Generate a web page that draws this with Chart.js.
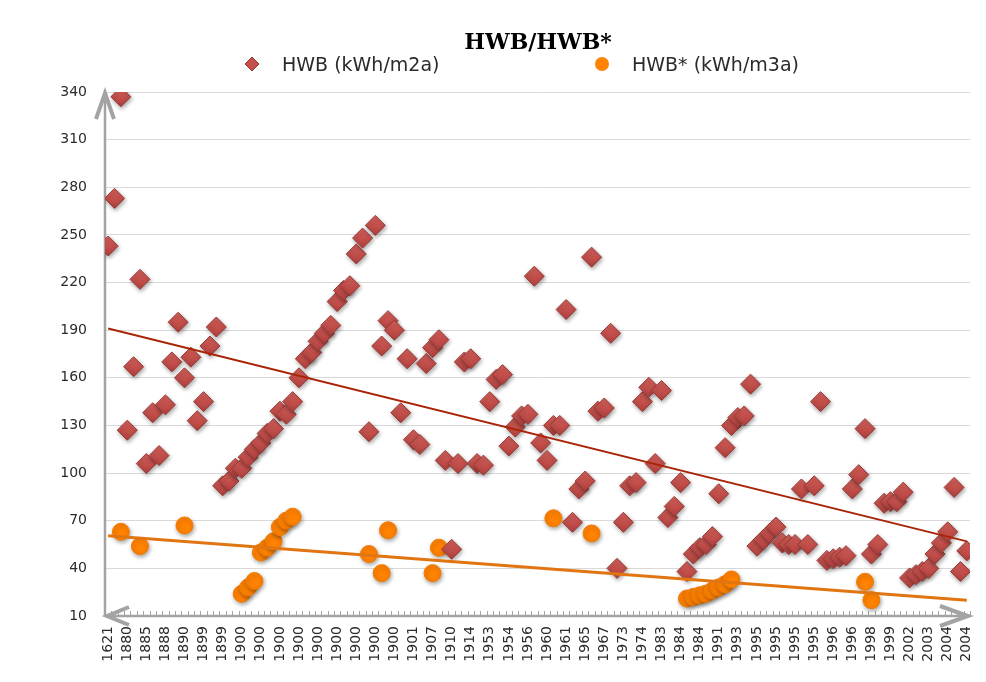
<!DOCTYPE html>
<html>
<head>
<meta charset="utf-8">
<title>HWB/HWB*</title>
<script src="https://cdn.jsdelivr.net/npm/chart.js@4.4.1/dist/chart.umd.min.js"></script>
<style>
  html, body { margin: 0; padding: 0; background: #fff; }
  #wrap { position: relative; width: 986px; height: 682px; }
</style>
</head>
<body>
<div id="wrap"><canvas id="chart" width="986" height="682"></canvas></div>
<script>
// ---------- DATA ----------
// labels shown under every third category (Excel skips the rest)
const tickLabels = [
  '1621', '1880', '1885', '1888', '1890', '1899', '1899', '1900', '1900', '1900',
  '1900', '1900', '1900', '1900', '1900', '1900', '1901', '1907', '1910', '1914',
  '1953', '1954', '1956', '1960', '1961', '1965', '1967', '1973', '1974', '1983',
  '1984', '1984', '1991', '1993', '1995', '1995', '1995', '1995', '1996', '1996',
  '1998', '1999', '2002', '2003', '2004', '2004'
];
const labelStep = 3;

// HWB (kWh/m2a), one value per building (category)
const hwb = [
  243, 273, 337, 127, 167, 222, 106, 138, 111, 143,
  170, 195, 160, 173, 133, 145, 180, 192,  92,  95,
  103, 103, 110, 115, 119, 125, 128, 139, 137, 145,
  160, 172, 176, 183, 188, 193, 208, 215, 218, 238,
  248, 126, 256, 180, 196, 190, 138, 172, 121, 118,
  169, 179, 184, 108,  52, 106, 170, 172, 106, 105,
  145, 159, 162, 117, 129, 136, 137, 224, 119, 108,
  130, 130, 203,  69,  90,  95, 236, 139, 141, 188,
   40,  69,  92,  94, 145, 154, 106, 152,  72,  79,
   94,  38,  49,  53,  55,  60,  87, 116, 130, 135,
  136, 156,  54,  58,  62,  66,  56,  55,  55,  90,
   55,  92, 145,  45,  46,  47,  48,  90,  99, 128,
   49,  55,  81,  82,  82,  88,  34,  36,  38,  40,
   49,  56,  63,  91,  38,  51
];

// HWB* (kWh/m3a), only known for some buildings
const hwbStar = [
  null, null,   63, null, null,   54, null, null, null, null,
  null, null,   67, null, null, null, null, null, null, null,
  null,   24,   28,   32,   50,   53,   57,   66,   70,   72.5,
  null, null, null, null, null, null, null, null, null, null,
  null,   49, null,   37,   64, null, null, null, null, null,
  null,   37,   53, null, null, null, null, null, null, null,
  null, null, null, null, null, null, null, null, null, null,
    71.5, null, null, null, null, null,   62, null, null, null,
  null, null, null, null, null, null, null, null, null, null,
  null,   21,   22,   23,   24,   26,   28,   30,   33, null,
  null, null, null, null, null, null, null, null, null, null,
  null, null, null, null, null, null, null, null, null,   31.5,
    20, null, null, null, null, null, null, null, null, null,
  null, null, null, null, null, null
];

const yMin = 10;
const yMax = 340;
const yStep = 30;

// ---------- COLOURS / FONTS ----------
const hwbColor = '#C4504C';
const hwbLight = '#D3605B';
const hwbDark = '#B0403D';
const hwbBorder = '#983A37';
const starColor = '#FF8200';
const hwbTrendColor = '#AA2408';
const starTrendColor = '#E07511';
const axisColor = '#A3A3A3';
const textColor = '#2B2B2B';
const fontSans = '"DejaVu Sans", Verdana, sans-serif';

// ---------- HELPERS ----------
function toPoints(values) {
  const pts = [];
  values.forEach((v, i) => { if (v !== null) pts.push({ x: i, y: v }); });
  return pts;
}

// linear trend like Excel: x = category index, empty cells skipped
function linearTrend(values) {
  const pts = toPoints(values);
  const n = pts.length;
  const mx = pts.reduce((s, p) => s + p.x, 0) / n;
  const my = pts.reduce((s, p) => s + p.y, 0) / n;
  let sxy = 0, sxx = 0;
  pts.forEach(p => { sxy += (p.x - mx) * (p.y - my); sxx += (p.x - mx) * (p.x - mx); });
  const b = sxy / sxx;
  const a = my - b * mx;
  const last = values.length - 1;
  return [{ x: 0, y: a }, { x: last, y: a + b * last }];
}

// light-to-dark fill on each diamond, like the Excel bevel
function diamondFill(context) {
  const chart = context.chart;
  if (context.type !== 'data' || !chart.chartArea || !context.parsed) return hwbColor;
  const py = chart.scales.y.getPixelForValue(context.parsed.y);
  const g = chart.ctx.createLinearGradient(0, py - 10, 0, py + 10);
  g.addColorStop(0, hwbLight);
  g.addColorStop(0.5, hwbColor);
  g.addColorStop(1, hwbDark);
  return g;
}

// ---------- PLUGINS ----------
// drop shadow under the markers
const markerShadow = {
  id: 'markerShadow',
  beforeDatasetDraw(chart, args) {
    if (args.meta.type === 'line') return;
    const c = chart.ctx;
    c.save();
    c.shadowColor = 'rgba(0,0,0,0.35)';
    c.shadowBlur = 4;
    c.shadowOffsetX = 1;
    c.shadowOffsetY = 2;
  },
  afterDatasetDraw(chart, args) {
    if (args.meta.type === 'line') return;
    chart.ctx.restore();
  }
};

// gray axes with arrow heads and small category ticks
const arrowAxes = {
  id: 'arrowAxes',
  beforeDatasetsDraw(chart) {
    const c = chart.ctx;
    const { left, right, top, bottom } = chart.chartArea;
    const xs = chart.scales.x;
    c.save();
    c.strokeStyle = axisColor;
    // minor ticks, one per category boundary
    c.lineWidth = 1;
    c.beginPath();
    for (let i = 0; i <= hwb.length; i++) {
      const px = Math.round(xs.getPixelForValue(i - 0.5)) + 0.5;
      c.moveTo(px, bottom - 5);
      c.lineTo(px, bottom);
    }
    c.stroke();
    // axis lines
    c.lineWidth = 2.5;
    c.beginPath();
    c.moveTo(left, bottom);
    c.lineTo(left, top);
    c.moveTo(left, bottom);
    c.lineTo(right, bottom);
    c.stroke();
    // arrow heads
    c.lineWidth = 4;
    c.lineJoin = 'miter';
    c.beginPath();
    c.moveTo(left - 9, top + 27);
    c.lineTo(left, top + 1);
    c.lineTo(left + 9, top + 27);
    c.moveTo(left + 24, bottom - 9);
    c.lineTo(left + 2, bottom);
    c.lineTo(left + 24, bottom + 9);
    c.moveTo(right - 30, bottom - 10);
    c.lineTo(right - 2, bottom);
    c.lineTo(right - 30, bottom + 10);
    c.stroke();
    c.restore();
  }
};

// title and legend drawn above the plot
const headerBlock = {
  id: 'headerBlock',
  afterDraw(chart) {
    const c = chart.ctx;
    c.save();
    c.fillStyle = '#000';
    c.textAlign = 'center';
    c.textBaseline = 'alphabetic';
    c.font = 'bold 22px "DejaVu Serif", serif';
    c.fillText('HWB/HWB*', 538, 49);

    const ds = chart.data.datasets;
    c.font = '19px ' + fontSans;
    c.textAlign = 'left';
    c.textBaseline = 'middle';
    // HWB item
    c.fillStyle = hwbColor;
    c.strokeStyle = hwbBorder;
    c.lineWidth = 1;
    c.beginPath();
    c.moveTo(252, 57); c.lineTo(259, 64); c.lineTo(252, 71); c.lineTo(245, 64);
    c.closePath(); c.fill(); c.stroke();
    c.fillStyle = textColor;
    c.fillText(ds[2].label, 282, 66);
    // HWB* item
    c.fillStyle = starColor;
    c.beginPath();
    c.arc(602, 64, 7, 0, Math.PI * 2);
    c.fill();
    c.fillStyle = textColor;
    c.fillText(ds[3].label, 632, 66);
    c.restore();
  }
};

// ---------- CHART ----------
const ctx = document.getElementById('chart');
new Chart(ctx, {
  type: 'scatter',
  data: {
    datasets: [
      {
        label: 'Trend HWB', type: 'line', data: linearTrend(hwb),
        borderColor: hwbTrendColor, borderWidth: 2, pointRadius: 0, fill: false, order: 0
      },
      {
        label: 'Trend HWB*', type: 'line', data: linearTrend(hwbStar),
        borderColor: starTrendColor, borderWidth: 3, pointRadius: 0, fill: false, order: 1
      },
      {
        label: 'HWB (kWh/m2a)', data: toPoints(hwb),
        pointStyle: 'rectRot', pointRadius: 10, pointHoverRadius: 10,
        backgroundColor: diamondFill, borderColor: hwbBorder, borderWidth: 1, order: 2
      },
      {
        label: 'HWB* (kWh/m3a)', data: toPoints(hwbStar),
        pointStyle: 'circle', pointRadius: 8.5, pointHoverRadius: 8.5,
        backgroundColor: starColor, borderColor: '#F27B00', borderWidth: 1, order: 3
      }
    ]
  },
  options: {
    responsive: false,
    animation: false,
    events: [],
    layout: { padding: { top: 92, right: 16, left: 0, bottom: 0 } },
    plugins: {
      legend: { display: false },
      title: { display: false },
      tooltip: { enabled: false }
    },
    scales: {
      x: {
        type: 'linear',
        min: -0.5,
        max: hwb.length - 0.5,
        afterBuildTicks: (scale) => {
          scale.ticks = tickLabels.map((t, k) => ({ value: k * labelStep }));
        },
        afterFit: (scale) => {
          scale.height = 66;
          scale.paddingLeft = 0;   // keep the plot edge where Excel had it
          scale.paddingRight = 0;
        },
        grid: { display: false, drawTicks: false },
        border: { display: false },
        ticks: {
          autoSkip: false,
          minRotation: 90,
          maxRotation: 90,
          padding: 10,
          color: textColor,
          font: { family: fontSans, size: 14 },
          callback: (v) => tickLabels[Math.round(v / labelStep)]
        }
      },
      y: {
        min: yMin,
        max: yMax,
        afterFit: (scale) => { scale.width = 105; },
        grid: { color: '#D9D9D9', lineWidth: 1, drawTicks: false },
        border: { display: false },
        ticks: {
          stepSize: yStep,
          padding: 18,
          color: textColor,
          font: { family: fontSans, size: 14 }
        }
      }
    }
  },
  plugins: [markerShadow, arrowAxes, headerBlock]
});
</script>
</body>
</html>
